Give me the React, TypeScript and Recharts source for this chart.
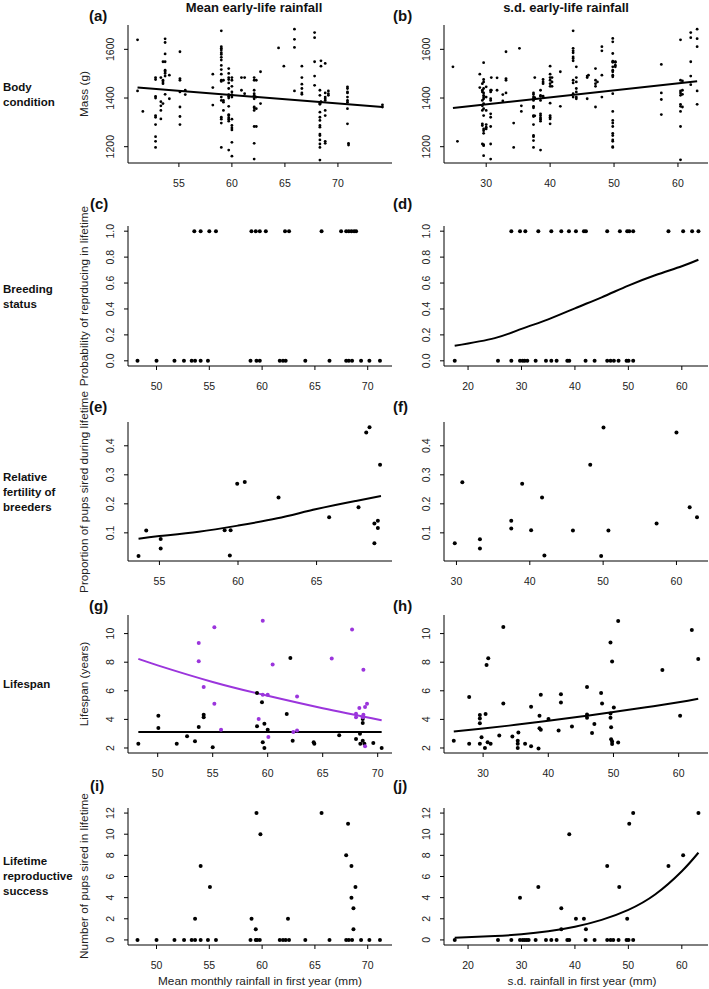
import React from 'react';
import { ComposedChart, Scatter, Line, XAxis, YAxis } from 'recharts';

const FONT = '"Liberation Sans", Arial, Helvetica, sans-serif';
const PURPLE = '#9b35dc';

// (a) body mass (g) by mean early-life rainfall: [rainfall, masses]
const massByMean: [number, number[]][] = [
  [51.1, [1639, 1429]],
  [51.6, [1345]],
  [52.8, [1484, 1476, 1407, 1400, 1328, 1321, 1291, 1241, 1222, 1197]],
  [53.3, [1484, 1385, 1368, 1349, 1314]],
  [53.5, [1549, 1473, 1466, 1459, 1377]],
  [53.7, [1643, 1628, 1581, 1549, 1514, 1508, 1501, 1490, 1415]],
  [54.1, [1494, 1397]],
  [55.1, [1590, 1480, 1473, 1425, 1363, 1324, 1291]],
  [55.6, [1432, 1414]],
  [58.2, [1498, 1443, 1371]],
  [59.0, [1676, 1611, 1604, 1597, 1586, 1579, 1567, 1556, 1534, 1517, 1498, 1473, 1468, 1404, 1390, 1321, 1313, 1297, 1197]],
  [59.2, [1473, 1390, 1383, 1349]],
  [59.7, [1521, 1501, 1484, 1476, 1462, 1439, 1414, 1407, 1400, 1366, 1332, 1328, 1319, 1313, 1305, 1186]],
  [60.0, [1484, 1473, 1448, 1425, 1414, 1404, 1313, 1287, 1277, 1269, 1218, 1161]],
  [60.9, [1484, 1432]],
  [61.2, [1484, 1418]],
  [62.1, [1484, 1473, 1432, 1418, 1411, 1407, 1397, 1363, 1360, 1349, 1283, 1214, 1149]],
  [62.3, [1473, 1404, 1356, 1283]],
  [62.7, [1508, 1377]],
  [64.4, [1606]],
  [64.9, [1531]],
  [65.9, [1683, 1641, 1608, 1429]],
  [66.6, [1531, 1484, 1457, 1439, 1421, 1415]],
  [67.8, [1669, 1648, 1549, 1490, 1452]],
  [68.3, [1432, 1411, 1379, 1374, 1342, 1321, 1308, 1287, 1280, 1252, 1246, 1228, 1211, 1197, 1145]],
  [68.4, [1553, 1531, 1385, 1383]],
  [68.8, [1542, 1421, 1404, 1397, 1390, 1349, 1328, 1222, 1214]],
  [69.1, [1429, 1418, 1411]],
  [70.9, [1446, 1439, 1425, 1421, 1404, 1390, 1383, 1356, 1294]],
  [71.0, [1214, 1207]],
  [74.2, [1372, 1363]],
];
const massMeanFit = [[51.1, 1443], [74.2, 1363]];

// (b) body mass (g) by s.d. early-life rainfall
const massBySd: [number, number[]][] = [
  [24.8, [1528]],
  [25.5, [1222]],
  [29.0, [1498, 1443]],
  [29.4, [1459, 1432, 1425, 1390, 1368, 1349, 1294, 1287, 1211]],
  [29.6, [1545, 1476, 1466, 1439, 1421, 1411, 1404, 1397, 1377, 1356, 1328, 1273, 1266, 1255, 1208, 1204, 1163]],
  [30.0, [1446, 1404, 1349, 1291, 1280, 1273]],
  [30.7, [1432, 1425, 1397, 1390, 1335, 1321, 1283, 1211, 1149]],
  [30.8, [1484, 1432]],
  [31.7, [1483, 1432]],
  [32.6, [1414, 1388]],
  [33.1, [1590, 1480, 1473, 1421]],
  [34.3, [1297, 1197]],
  [35.2, [1604]],
  [35.5, [1368, 1345]],
  [37.4, [1421, 1414, 1404, 1397, 1390, 1366, 1360, 1328, 1324, 1291, 1246, 1241, 1225, 1197]],
  [37.6, [1484, 1401, 1327]],
  [38.5, [1432, 1411, 1407, 1390, 1335, 1328, 1319, 1313, 1305, 1186]],
  [38.9, [1476, 1466, 1459, 1408, 1404]],
  [40.0, [1531, 1498, 1484, 1473, 1459, 1448, 1379, 1328, 1321, 1314, 1294]],
  [40.3, [1484, 1466, 1448]],
  [41.6, [1508, 1366]],
  [43.6, [1676, 1604, 1594, 1586, 1569, 1562, 1553, 1473, 1462, 1418, 1404]],
  [44.1, [1528, 1484, 1466, 1439, 1425, 1404, 1397]],
  [45.8, [1490, 1484, 1397]],
  [46.0, [1494]],
  [47.1, [1521, 1473, 1459, 1448, 1363]],
  [47.4, [1466]],
  [48.1, [1611, 1594, 1494, 1404]],
  [49.8, [1645, 1631, 1583, 1551, 1547, 1528, 1514, 1508, 1494, 1487, 1418, 1345, 1308, 1297, 1283, 1255, 1246, 1228, 1222, 1200, 1197]],
  [50.2, [1549, 1547, 1535, 1528]],
  [57.4, [1538, 1421, 1394, 1332]],
  [60.4, [1639, 1473, 1429, 1421, 1411, 1374, 1366, 1345, 1283, 1146]],
  [60.7, [1470, 1432, 1415, 1363]],
  [62.0, [1669, 1648, 1549, 1490, 1455]],
  [63.0, [1683, 1644, 1611, 1429, 1374]],
];
const massSdFit = [[24.8, 1359], [63.0, 1469]];

// (c) breeding status by mean rainfall (1 = bred, 0 = did not)
const bredMean = [53.58, 54.18, 55.0, 55.63, 58.99, 59.4, 59.78, 60.35, 62.17, 62.55, 65.63, 67.48, 67.96, 68.21, 68.46, 68.71, 68.9];
const notBredMean = [48.2, 50.0, 51.7, 52.6, 53.33, 53.65, 54.18, 54.87, 58.9, 59.47, 59.78, 61.67, 61.98, 62.23, 64.09, 66.38, 67.96, 68.21, 68.52, 69.37, 70.16, 71.16];

// (d) breeding status by s.d. rainfall
const bredSd = [28.1, 29.72, 30.72, 33.15, 35.58, 37.45, 38.88, 40.19, 41.68, 42.06, 46.04, 48.41, 49.78, 50.16, 50.9, 57.5, 60.25, 61.93, 63.11];
const notBredSd = [17.51, 25.6, 28.1, 29.72, 30.22, 30.6, 31.09, 32.65, 34.58, 35.58, 36.57, 38.57, 38.94, 41.99, 43.68, 46.04, 46.67, 47.29, 48.16, 49.66, 50.03, 50.9];
const bredSdFit = [[17.5, 0.116], [25, 0.175], [30, 0.246], [35, 0.32], [40, 0.405], [45, 0.49], [50, 0.58], [55, 0.66], [60, 0.73], [63.1, 0.78]];

// (e) proportion of pups sired, by mean rainfall
const fertMean = [
  [53.67, 0.02], [54.16, 0.108], [55.08, 0.079], [55.08, 0.046], [59.15, 0.109], [59.53, 0.109],
  [59.48, 0.022], [59.95, 0.269], [60.43, 0.275], [62.58, 0.222], [65.8, 0.154], [67.67, 0.188],
  [68.16, 0.446], [68.37, 0.464], [68.68, 0.132], [68.9, 0.142], [68.9, 0.117], [68.68, 0.064], [69.04, 0.335],
];
const fertMeanFit = [[53.67, 0.08], [55, 0.089], [57.5, 0.104], [60, 0.125], [62.5, 0.15], [65, 0.182], [67.5, 0.21], [69.1, 0.227]];

// (f) proportion of pups sired, by s.d. rainfall
const fertSd = [
  [29.77, 0.064], [30.8, 0.274], [33.2, 0.078], [33.2, 0.046], [37.47, 0.142], [37.47, 0.115],
  [38.96, 0.269], [40.18, 0.109], [41.67, 0.222], [41.99, 0.022], [45.88, 0.108], [48.24, 0.335],
  [49.73, 0.02], [50.05, 0.463], [50.72, 0.108], [57.29, 0.132], [60.0, 0.446], [61.8, 0.188], [62.8, 0.154],
];

// (g) lifespan by mean rainfall: non-breeders (black) and breeders (purple)
const lifeMeanOther = [
  [48.24, 2.3], [50.06, 4.26], [50.06, 3.4], [51.73, 2.3], [52.67, 2.82], [53.39, 2.47], [53.73, 3.47],
  [54.18, 4.33], [54.18, 4.15], [55.0, 2.05], [59.03, 5.85], [59.48, 5.2], [59.55, 2.4], [59.7, 3.7],
  [59.03, 3.52], [59.7, 2.0], [60.0, 3.28], [62.06, 8.3], [61.73, 4.38], [62.27, 2.51], [64.18, 2.4],
  [64.24, 2.3], [66.5, 2.89], [68.03, 2.63], [68.39, 3.0], [68.64, 4.03], [68.64, 3.75], [68.42, 2.3],
  [68.64, 2.51], [68.79, 2.3], [69.6, 2.35], [70.36, 2.0],
];
const lifeMeanBreeder = [
  [53.73, 9.35], [53.73, 8.06], [54.18, 6.27], [55.15, 10.44], [55.15, 5.1], [55.76, 3.28], [59.18, 4.03],
  [59.55, 10.9], [59.55, 5.73], [60.0, 5.73], [60.06, 2.77], [60.45, 7.83], [62.33, 3.12], [62.67, 3.23],
  [62.67, 5.6], [65.82, 8.25], [67.67, 10.28], [68.03, 4.4], [68.03, 4.15], [68.33, 4.8], [68.7, 7.48],
  [68.7, 4.33], [68.64, 4.15], [68.85, 4.87], [69.03, 5.1], [68.85, 2.12],
];
const lifeMeanOtherFit = [[48.24, 3.12], [70.36, 3.12]];
const lifeMeanBreederFit = [[48.24, 8.23], [50, 7.78], [55, 6.62], [60, 5.65], [65, 4.78], [70.36, 3.94]];

// (h) lifespan by s.d. rainfall
const lifeSd = [
  [25.5, 2.51], [27.86, 5.57], [27.86, 2.3], [29.5, 4.31], [29.5, 4.07], [29.5, 3.73], [29.5, 2.3],
  [29.76, 2.76], [30.28, 2.0], [30.38, 4.37], [30.53, 7.81], [30.79, 8.27], [30.69, 2.41], [31.15, 2.3],
  [32.48, 2.88], [33.1, 10.46], [33.1, 5.11], [34.49, 2.81], [35.41, 3.08], [35.31, 2.51], [35.31, 2.3],
  [35.31, 2.0], [36.44, 2.3], [37.36, 4.88], [37.36, 2.12], [38.5, 1.96], [38.65, 4.26], [38.65, 3.38],
  [38.85, 3.27], [38.85, 5.73], [40.03, 4.03], [41.58, 3.22], [41.94, 5.76], [41.94, 5.18], [43.63, 3.5],
  [45.94, 6.27], [45.94, 4.35], [45.94, 4.12], [46.71, 3.04], [47.07, 3.68], [48.1, 5.85], [48.25, 5.11],
  [49.54, 9.38], [49.79, 8.04], [49.54, 4.42], [49.54, 4.12], [49.64, 3.45], [49.64, 2.62], [49.79, 2.46],
  [49.79, 2.28], [50.05, 4.84], [50.72, 10.88], [50.72, 2.39], [57.5, 7.46], [60.22, 4.26], [62.02, 10.25],
  [63.0, 8.22],
];
const lifeSdFit = [[25.5, 3.15], [30, 3.36], [35, 3.62], [40, 3.9], [45, 4.2], [50, 4.52], [55, 4.85], [60, 5.2], [63, 5.45]];

// (i) lifetime reproductive success by mean rainfall
const lrsMeanZero = [48.2, 50.0, 51.7, 52.61, 53.33, 53.65, 54.18, 54.87, 55.63, 58.9, 59.4, 59.53, 59.78, 61.67, 61.98, 62.23, 62.55, 64.09, 66.38, 67.96, 68.21, 68.52, 69.37, 70.16, 71.16];
const lrsMean = [
  [53.65, 2], [54.18, 7], [55.06, 5], [59.0, 2], [59.4, 1], [59.47, 12], [59.84, 10], [62.45, 2],
  [65.63, 12], [68.14, 11], [67.96, 8], [68.46, 7], [68.84, 5], [68.46, 4], [68.65, 3], [68.65, 1],
];

// (j) lifetime reproductive success by s.d. rainfall
const lrsSdZero = [17.51, 25.6, 28.1, 29.72, 30.22, 30.6, 30.97, 31.34, 32.65, 34.58, 35.58, 36.57, 38.57, 38.94, 41.99, 43.68, 46.04, 46.67, 47.17, 48.16, 49.66, 50.03, 50.9];
const lrsSd = [
  [29.72, 4], [33.15, 5], [37.45, 3], [37.45, 1], [38.94, 10], [40.19, 2], [41.68, 2], [42.06, 1],
  [46.04, 7], [48.29, 5], [49.78, 2], [50.16, 11], [50.9, 12], [57.5, 7], [60.25, 8], [63.11, 12],
];
const lrsSdFit = [[17.5, 0.2], [25, 0.36], [30, 0.54], [35, 0.82], [40, 1.25], [45, 1.9], [50, 2.85], [55, 4.3], [60, 6.5], [63.1, 8.25]];

type Pt = { x: number; y: number };
const cluster = (c: [number, number[]][]): Pt[] => c.flatMap(([x, ys]) => ys.map((y) => ({ x, y })));
const pairs = (p: number[][]): Pt[] => p.map(([x, y]) => ({ x, y }));
const level = (xs: number[], y: number): Pt[] => xs.map((x) => ({ x, y }));

type Frame = { left: number; top: number; right: number; bottom: number };
type Series = { data: Pt[]; color: string; r: number };
type Fit = { data: Pt[]; color: string };

const PAD_L = 60;
const PAD_T = 5;
const PAD_B = 30;

interface PanelProps {
  frame: Frame;
  xDomain: [number, number];
  yDomain: [number, number];
  xTicks: number[];
  yTicks: number[];
  yFmt?: (v: number) => string;
  series: Series[];
  fits?: Fit[];
}

function Panel({ frame, xDomain, yDomain, xTicks, yTicks, yFmt = (v) => String(v), series, fits = [] }: PanelProps) {
  const w = frame.right - frame.left;
  const h = frame.bottom - frame.top;
  const tx = PAD_L - 14;

  const YTick = (p: any) => (
    <text x={tx} y={p.y} transform={`rotate(-90 ${tx} ${p.y})`} textAnchor="middle" fontSize={10.5} fontFamily={FONT} fill="#222">
      {yFmt(p.payload.value)}
    </text>
  );
  const XTick = (p: any) => (
    <text x={p.x} y={PAD_T + h + 23.5} textAnchor="middle" fontSize={10.5} fontFamily={FONT} fill="#222">
      {p.payload.value}
    </text>
  );

  return (
    <div style={{ position: 'absolute', left: frame.left - PAD_L, top: frame.top - PAD_T }}>
      <ComposedChart width={w + PAD_L + 1} height={h + PAD_T + PAD_B} margin={{ top: PAD_T, right: 1, bottom: 0, left: 0 }}>
        <XAxis type="number" dataKey="x" domain={xDomain} ticks={xTicks} allowDataOverflow height={PAD_B}
          stroke="#000" tickSize={4} tick={XTick} interval={0} />
        <YAxis type="number" dataKey="y" domain={yDomain} ticks={yTicks} allowDataOverflow width={PAD_L}
          stroke="#000" tickSize={4} tick={YTick} interval={0} />
        {series.map((s, i) => (
          <Scatter key={`s-${i}`} data={s.data} isAnimationActive={false}
            shape={(p: any) => <circle cx={p.cx} cy={p.cy} r={s.r} fill={s.color} />} />
        ))}
        {fits.map((f, i) => (
          <Line key={`f-${i}`} data={f.data} dataKey="y" type="natural" stroke={f.color} strokeWidth={2}
            dot={false} activeDot={false} isAnimationActive={false} />
        ))}
      </ComposedChart>
    </div>
  );
}

const fmt1 = (v: number) => v.toFixed(1);

const rowLabels: { lines: string[]; center: number }[] = [
  { lines: ['Body', 'condition'], center: 94 },
  { lines: ['Breeding', 'status'], center: 296 },
  { lines: ['Relative', 'fertility of', 'breeders'], center: 492 },
  { lines: ['Lifespan'], center: 684 },
  { lines: ['Lifetime', 'reproductive', 'success'], center: 876 },
];

const panelLetters = [
  { t: '(a)', x: 89, y: 21 }, { t: '(b)', x: 393, y: 21 },
  { t: '(c)', x: 90, y: 209 }, { t: '(d)', x: 393, y: 209 },
  { t: '(e)', x: 89, y: 412 }, { t: '(f)', x: 393, y: 412 },
  { t: '(g)', x: 89, y: 611 }, { t: '(h)', x: 393, y: 611 },
  { t: '(i)', x: 90, y: 791 }, { t: '(j)', x: 393, y: 791 },
];

const yTitles = [
  { t: 'Mass (g)', c: 94 },
  { t: 'Probability of reprducing in lifetime', c: 296 },
  { t: 'Proportion of pups sired during lifetime', c: 492 },
  { t: 'Lifespan (years)', c: 684 },
  { t: 'Number of pups sired in lifetime', c: 876 },
];

export default function App() {
  const L = { left: 128, right: 392 };
  const R = { left: 444, right: 708 };
  return (
    <div style={{ position: 'absolute', left: 0, top: 0, width: 709, height: 989, background: '#fff', fontFamily: FONT }}>
      <Panel frame={{ ...L, top: 25, bottom: 163 }} xDomain={[50.2, 75.1]} yDomain={[1133, 1700]}
        xTicks={[55, 60, 65, 70]} yTicks={[1200, 1400, 1600]}
        series={[{ data: cluster(massByMean), color: '#000', r: 1.4 }]}
        fits={[{ data: pairs(massMeanFit), color: '#000' }]} />
      <Panel frame={{ ...R, top: 25, bottom: 163 }} xDomain={[23.4, 64.7]} yDomain={[1133, 1700]}
        xTicks={[30, 40, 50, 60]} yTicks={[1200, 1400, 1600]}
        series={[{ data: cluster(massBySd), color: '#000', r: 1.4 }]}
        fits={[{ data: pairs(massSdFit), color: '#000' }]} />

      <Panel frame={{ ...L, top: 226, bottom: 366 }} xDomain={[47.3, 72.3]} yDomain={[-0.04, 1.04]}
        xTicks={[50, 55, 60, 65, 70]} yTicks={[0, 0.2, 0.4, 0.6, 0.8, 1]} yFmt={fmt1}
        series={[{ data: [...level(bredMean, 1), ...level(notBredMean, 0)], color: '#000', r: 2 }]} />
      <Panel frame={{ ...R, top: 226, bottom: 366 }} xDomain={[15.5, 64.9]} yDomain={[-0.04, 1.04]}
        xTicks={[20, 30, 40, 50, 60]} yTicks={[0, 0.2, 0.4, 0.6, 0.8, 1]} yFmt={fmt1}
        series={[{ data: [...level(bredSd, 1), ...level(notBredSd, 0)], color: '#000', r: 2 }]}
        fits={[{ data: pairs(bredSdFit), color: '#000' }]} />

      <Panel frame={{ ...L, top: 422, bottom: 561 }} xDomain={[53.0, 69.8]} yDomain={[0.003, 0.482]}
        xTicks={[55, 60, 65]} yTicks={[0.1, 0.2, 0.3, 0.4]}
        series={[{ data: pairs(fertMean), color: '#000', r: 2 }]}
        fits={[{ data: pairs(fertMeanFit), color: '#000' }]} />
      <Panel frame={{ ...R, top: 422, bottom: 561 }} xDomain={[28.3, 64.3]} yDomain={[0.003, 0.482]}
        xTicks={[30, 40, 50, 60]} yTicks={[0.1, 0.2, 0.3, 0.4]}
        series={[{ data: pairs(fertSd), color: '#000', r: 2 }]} />

      <Panel frame={{ ...L, top: 615, bottom: 753 }} xDomain={[47.3, 71.3]} yDomain={[1.65, 11.3]}
        xTicks={[50, 55, 60, 65, 70]} yTicks={[2, 4, 6, 8, 10]}
        series={[
          { data: pairs(lifeMeanOther), color: '#000', r: 2 },
          { data: pairs(lifeMeanBreeder), color: PURPLE, r: 2 },
        ]}
        fits={[
          { data: pairs(lifeMeanOtherFit), color: '#000' },
          { data: pairs(lifeMeanBreederFit), color: PURPLE },
        ]} />
      <Panel frame={{ ...R, top: 615, bottom: 753 }} xDomain={[24.0, 64.5]} yDomain={[1.65, 11.3]}
        xTicks={[30, 40, 50, 60]} yTicks={[2, 4, 6, 8, 10]}
        series={[{ data: pairs(lifeSd), color: '#000', r: 2 }]}
        fits={[{ data: pairs(lifeSdFit), color: '#000' }]} />

      <Panel frame={{ ...L, top: 808, bottom: 945 }} xDomain={[47.3, 72.3]} yDomain={[-0.48, 12.48]}
        xTicks={[50, 55, 60, 65, 70]} yTicks={[0, 2, 4, 6, 8, 10, 12]}
        series={[{ data: [...level(lrsMeanZero, 0), ...pairs(lrsMean)], color: '#000', r: 2 }]} />
      <Panel frame={{ ...R, top: 808, bottom: 945 }} xDomain={[15.5, 64.9]} yDomain={[-0.48, 12.48]}
        xTicks={[20, 30, 40, 50, 60]} yTicks={[0, 2, 4, 6, 8, 10, 12]}
        series={[{ data: [...level(lrsSdZero, 0), ...pairs(lrsSd)], color: '#000', r: 2 }]}
        fits={[{ data: pairs(lrsSdFit), color: '#000' }]} />

      <svg width={709} height={989} style={{ position: 'absolute', left: 0, top: 0, pointerEvents: 'none' }}>
        <text x={254} y={12} textAnchor="middle" fontSize={13} fontWeight="bold" fontFamily={FONT} fill="#111">Mean early-life rainfall</text>
        <text x={566} y={12} textAnchor="middle" fontSize={13} fontWeight="bold" fontFamily={FONT} fill="#111">s.d. early-life rainfall</text>
        {rowLabels.map((r) =>
          r.lines.map((line, i) => (
            <text key={line} x={3} y={r.center + 4 + (i - (r.lines.length - 1) / 2) * 15}
              fontSize={11.5} fontWeight="bold" fontFamily={FONT} fill="#111">{line}</text>
          )),
        )}
        {panelLetters.map((p) => (
          <text key={p.t} x={p.x} y={p.y} fontSize={15} fontWeight="bold" fontFamily={FONT} fill="#111">{p.t}</text>
        ))}
        {yTitles.map((t) => (
          <text key={t.t} x={88} y={t.c} transform={`rotate(-90 88 ${t.c})`} textAnchor="middle"
            fontSize={11.8} fontFamily={FONT} fill="#222">{t.t}</text>
        ))}
        <text x={260} y={985} textAnchor="middle" fontSize={11.8} fontFamily={FONT} fill="#222">Mean monthly rainfall in first year (mm)</text>
        <text x={582} y={985} textAnchor="middle" fontSize={11.8} fontFamily={FONT} fill="#222">s.d. rainfall in first year (mm)</text>
      </svg>
    </div>
  );
}
